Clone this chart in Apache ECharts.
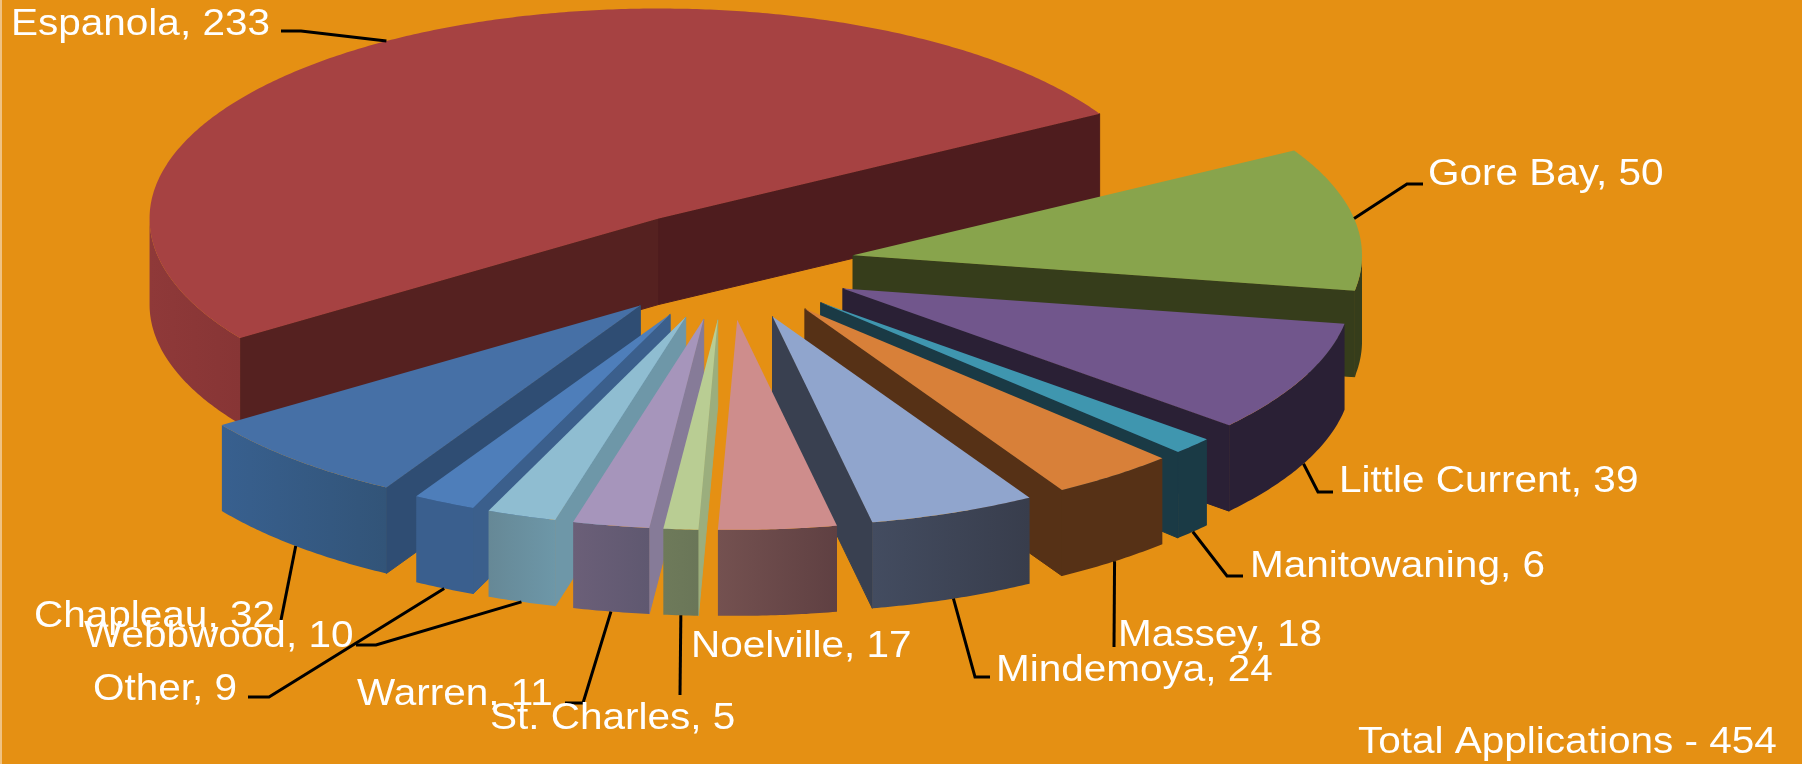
<!DOCTYPE html>
<html>
<head>
<meta charset="utf-8">
<title>Total Applications</title>
<script src="https://cdn.jsdelivr.net/npm/echarts@6/dist/echarts.min.js"></script>
<style>
    html, body { margin: 0; padding: 0; background: #e59013; }
    #container1 { width: 1802px; height: 764px; }
</style>
</head>
<body>
<div id="container1"></div>
<script>
var towns = ['Espanola', 'Gore Bay', 'Little Current', 'Manitowaning', 'Massey', 'Mindemoya',
    'Noelville', 'St. Charles', 'Warren', 'Webbwood', 'Other', 'Chapleau'];
var applications = [233, 50, 39, 6, 18, 24, 17, 5, 11, 10, 9, 32];
var totalLabel = 'Total Applications - 454';

// slice colours: top face, side wall, outer wall left and right
var topColors = ['#a64242', '#88a44c', '#71568c', '#3f96af', '#d88039', '#90a5cd',
    '#ce8d8c', '#b9cd93', '#a695bb', '#8fbdd1', '#4e7eba', '#4670a6'];
var wallColors = ['#4e1c1e', '#363d1b', '#2a2035', '#1a3a45', '#563116', '#394050',
    '#5f4042', '#9bae7d', '#867b98', '#6e97a8', '#3b5f8c', '#2f4d73'];
var outerLeft = ['#8f3939', '#363d1b', '#2a2035', '#1a3a45', '#563116', '#434c60',
    '#745150', '#6e7a5a', '#6b5f78', '#668896', '#3a5f8e', '#38608f'];
var outerRight = ['#873535', '#363d1b', '#2a2035', '#1a3a45', '#563116', '#383d4c',
    '#5f4042', '#6a7658', '#5f5870', '#6d97a8', '#3a5f8e', '#325478'];

// label anchors and leader bends, picked by hand like the original chart
var labelAt = [[11, 25], [1428, 175], [1339, 482], [1250, 567], [1118, 636], [996, 671],
    [691, 647], [490, 719], [357, 695], [84, 637], [93, 690], [34, 617]];
var leaderBends = [
    [[301, 31], [281, 31]],
    [[1407, 184], [1423, 184]],
    [[1318, 492], [1333, 492]],
    [[1227, 576], [1243, 576]],
    [[1114, 647]],
    [[975, 677], [990, 677]],
    [],
    [[680, 695]],
    [[583, 703], [565, 703]],
    [[376, 645], [356, 645]],
    [[269, 697], [248, 697]],
    [[281, 620]]
];

var dom = document.getElementById('container1');
var chart = echarts.init(dom);

var centerX = 727, centerY = 265;
var radiusX = 509, radiusY = 210;
var explodeX = 128, explodeY = 55;
var depth = 86;
var firstAngle = 145.3;
var labelFont = '36px "Liberation Sans"';
var labelStretch = 1.125;

var total = applications.reduce(function (a, b) { return a + b; }, 0);

// angles run clockwise on screen
var slices = [];
var sum = 0;
applications.forEach(function (v, i) {
    var from = firstAngle + sum / total * 360;
    sum += v;
    var to = firstAngle + sum / total * 360;
    var mid = (from + to) / 2 * Math.PI / 180;
    slices.push({
        from: from,
        to: to,
        mid: mid,
        apexX: centerX + explodeX * Math.cos(mid),
        apexY: centerY + explodeY * Math.sin(mid)
    });
});

var drawOrder = slices.map(function (s, i) { return i; }).sort(function (a, b) {
    return Math.sin(slices[a].mid) - Math.sin(slices[b].mid);
});

function rim(s, deg) {
    var r = deg * Math.PI / 180;
    return [s.apexX + radiusX * Math.cos(r), s.apexY + radiusY * Math.sin(r)];
}

function down(p) {
    return [p[0], p[1] + depth];
}

function wall(s, deg, fill, z) {
    var p = rim(s, deg);
    return {
        type: 'polygon',
        z2: z,
        shape: { points: [[s.apexX, s.apexY], p, down(p), [s.apexX, s.apexY + depth]] },
        style: { fill: fill, stroke: fill, lineWidth: 1 }
    };
}

function renderSlice(params) {
    var i = params.dataIndex;
    var s = slices[i];
    var z = 10 + drawOrder.indexOf(i) * 4;
    var children = [];

    // radial walls, only the ones that face the viewer
    if (Math.cos(s.from * Math.PI / 180) < 0) {
        children.push(wall(s, s.from, i === 0 ? '#552120' : wallColors[i], z));
    }
    if (Math.cos(s.to * Math.PI / 180) > 0) children.push(wall(s, s.to, wallColors[i], z));

    // outer wall, front half of the rim only
    var upper = [];
    for (var d = s.from; d < s.to; d += 0.5) {
        if (Math.sin(d * Math.PI / 180) >= 0) upper.push(rim(s, d));
    }
    if (Math.sin(s.to * Math.PI / 180) >= 0) upper.push(rim(s, s.to));
    if (upper.length > 1) {
        var grad = new echarts.graphic.LinearGradient(0, 0, 1, 0, [
            { offset: 0, color: outerLeft[i] },
            { offset: 1, color: outerRight[i] }
        ]);
        children.push({
            type: 'polygon',
            z2: z + 1,
            shape: { points: upper.concat(upper.map(down).reverse()) },
            style: { fill: grad }
        });
    }

    // top face
    var topPoints = [[s.apexX, s.apexY]];
    for (var t = s.from; t < s.to; t += 0.5) topPoints.push(rim(s, t));
    topPoints.push(rim(s, s.to));
    children.push({
        type: 'polygon',
        z2: z + 2,
        shape: { points: topPoints },
        style: { fill: topColors[i] }
    });

    // leader line and label
    if (leaderBends[i].length) {
        var midDeg = s.mid * 180 / Math.PI;
        var start = rim(s, midDeg);
        if (Math.sin(s.mid) > 0) start = down(start);
        children.push({
            type: 'polyline',
            z2: 900,
            shape: { points: [start].concat(leaderBends[i]) },
            style: { stroke: '#000', lineWidth: 3, fill: null }
        });
    }
    children.push({
        type: 'text',
        z2: 1000 + i,
        x: labelAt[i][0],
        y: labelAt[i][1],
        scaleX: labelStretch,
        style: {
            x: 0,
            y: 0,
            text: towns[i] + ', ' + applications[i],
            font: labelFont,
            fill: '#fff',
            textAlign: 'left',
            textVerticalAlign: 'middle'
        }
    });

    return { type: 'group', children: children };
}

option = {
    backgroundColor: '#e59013',
    animation: false,
    series: [{
        type: 'custom',
        coordinateSystem: 'none',
        renderItem: renderSlice,
        clip: false,
        silent: true,
        data: applications.map(function (v, i) { return [i, v]; })
    }],
    graphic: [{
        type: 'rect',
        z: 100,
        shape: { x: 0, y: 0, width: 2, height: 764 },
        style: { fill: '#f0c282' }
    }, {
        type: 'text',
        z: 100,
        x: 1358,
        y: 743,
        scaleX: labelStretch,
        style: {
            x: 0,
            y: 0,
            text: totalLabel,
            font: labelFont,
            fill: '#fff',
            textAlign: 'left',
            textVerticalAlign: 'middle'
        }
    }]
};

chart.setOption(option, true);
</script>
</body>
</html>
